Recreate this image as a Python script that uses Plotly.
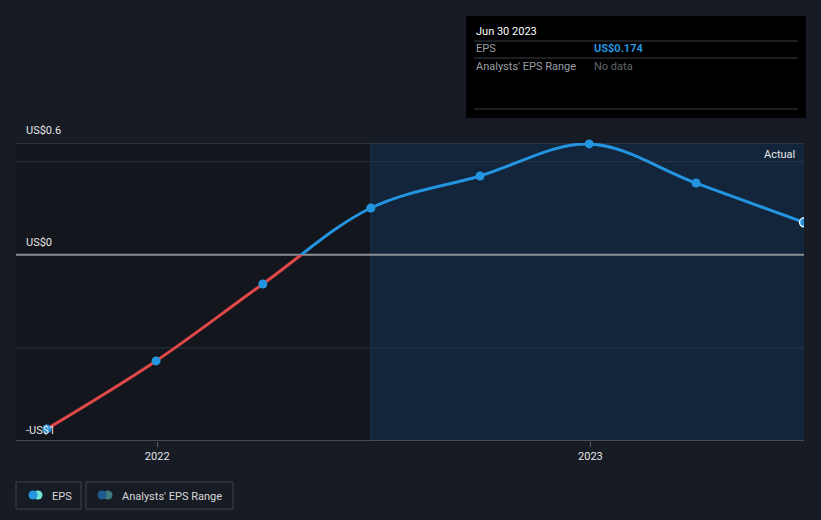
"""EPS CHART RECREATION"""
import plotly.graph_objects as go

# data
dates = [
    "2021-09-30", "2021-12-31", "2022-03-31", "2022-06-30",
    "2022-09-30", "2022-12-31", "2023-03-31", "2023-06-30",
]
eps = [-0.935, -0.57, -0.157, 0.251, 0.423, 0.595, 0.385, 0.174]
ytick_text = ["US$0.6", "US$0", "-US$1"]
xtick_vals = ["2022-01-01", "2023-01-01"]
xtick_text = ["2022", "2023"]
forecast_start = "2022-06-30"

W, H = 821, 520
L, R, T, B = 16, 804, 143, 441
X_RANGE = ["2021-09-04", "2023-06-30"]
Y_RANGE = [-1, 0.6]

BLUE = "#2394df"
RED = "#e04848"
FONT = "Roboto"


def px(x):
    return (x - L) / (R - L)


def py(y):
    return (B - y) / (B - T)


zero_frac = (0 - Y_RANGE[0]) / (Y_RANGE[1] - Y_RANGE[0])

line_kw = dict(x=dates, y=eps, mode="lines", line_shape="spline",
               line_smoothing=1.0, hoverinfo="skip", showlegend=False)

neg = [(d, v) for d, v in zip(dates[:-1], eps[:-1]) if v < 0]
pos = [(d, v) for d, v in zip(dates[:-1], eps[:-1]) if v >= 0]


def markers(points, yaxis, clip=False, **marker_kw):
    return go.Scatter(
        x=[p[0] for p in points], y=[p[1] for p in points], mode="markers",
        cliponaxis=clip, showlegend=False, yaxis=yaxis,
        marker=dict(color=BLUE, opacity=1, size=9, **marker_kw),
        hovertemplate="%{x}<br>US$%{y:.3f}<extra></extra>",
    )


data = [
    # red part below zero, clipped by its own axis
    go.Scatter(**line_kw, line=dict(color=RED, width=3), yaxis="y2"),
    markers(neg, "y2"),
    # blue part above zero
    go.Scatter(**line_kw, line=dict(color=BLUE, width=3), yaxis="y3"),
    markers(pos, "y3"),
    # latest point, clipped at the plot edge
    markers([(dates[-1], eps[-1])], "y3", clip=True, line=dict(color="#e8f4ff", width=1.5)),
]


def hline(y, color, width):
    return dict(type="line", xref="x", yref="y", x0=X_RANGE[0], x1=X_RANGE[1], y0=y, y1=y,
                line=dict(color=color, width=width), layer="below")


shapes = [
    # plot backgrounds: past (dark) and actual (shaded)
    dict(type="rect", xref="x", yref="y", x0=X_RANGE[0], x1=forecast_start,
         y0=Y_RANGE[0], y1=Y_RANGE[1], fillcolor="#13161d", line_width=0, layer="below"),
    dict(type="rect", xref="x", yref="y", x0=forecast_start, x1=X_RANGE[1],
         y0=Y_RANGE[0], y1=Y_RANGE[1], fillcolor="#13253a", line_width=0, layer="below"),
    dict(type="line", xref="x", yref="y", x0=forecast_start, x1=forecast_start,
         y0=Y_RANGE[0], y1=Y_RANGE[1], line=dict(color="#1a3550", width=1), layer="below"),
    # grid
    hline(0.5, "#2b3340", 1),
    hline(-0.5, "#2b3340", 1),
    hline(0.6, "#454b55", 1),
    hline(0, "#8c8f94", 2),
    hline(-1, "#575c64", 1.5),
    # tooltip box
    dict(type="rect", xref="paper", yref="paper", x0=px(466), x1=px(806),
         y0=py(118), y1=py(16), fillcolor="#000000", line_width=0),
]
for yy in (41, 58, 109):
    shapes.append(dict(type="line", xref="paper", yref="paper", x0=px(474), x1=px(798),
                       y0=py(yy), y1=py(yy), line=dict(color="#3c3f44", width=1)))

# legend boxes
for x0, x1 in ((16, 81), (86, 233)):
    shapes.append(dict(type="rect", xref="paper", yref="paper", x0=px(x0), x1=px(x1),
                       y0=py(509), y1=py(482), line=dict(color="#3d424a", width=1),
                       fillcolor="rgba(0,0,0,0)"))
for cx, col in ((38, "#6fe3d6"), (33, BLUE), (108, "#3d7c7c"), (102, "#1e5b8f")):
    shapes.append(dict(type="circle", xref="paper", yref="paper", x0=px(cx - 4.5), x1=px(cx + 4.5),
                       y0=py(499.5), y1=py(490.5), fillcolor=col, line_width=0))


def ann(x, y, text, color="#e6e6e6", size=11, xanchor="left", **kw):
    return dict(xref="paper", yref="paper", x=px(x), y=py(y), text=text, showarrow=False,
                xanchor=xanchor, yanchor="middle", font=dict(family=FONT, size=size, color=color), **kw)


annotations = [ann(24, yp, t) for yp, t in zip((130, 242, 430), ytick_text)]
annotations += [
    ann(797, 154, "Actual", xanchor="right"),
    ann(474, 31, "Jun 30 2023", color="#ffffff"),
    ann(474, 49, "EPS", color="#9a9ea4"),
    ann(592, 49, "<b>US$0.174</b>", color=BLUE),
    ann(474, 66, "Analysts' EPS Range", color="#9a9ea4"),
    ann(592, 66, "No data", color="#61656b"),
    ann(50, 496, "EPS", color="#d8d8d8"),
    ann(120, 496, "Analysts' EPS Range", color="#d8d8d8"),
]

layout = go.Layout(
    width=W, height=H,
    paper_bgcolor="#161b24",
    plot_bgcolor="rgba(0,0,0,0)",
    margin=dict(l=L, r=W - R, t=T, b=H - B),
    font=dict(family=FONT, size=11, color="#e6e6e6"),
    showlegend=False,
    xaxis=dict(
        range=X_RANGE, type="date", showgrid=False, zeroline=False, showline=False,
        tickvals=xtick_vals, ticktext=xtick_text, ticks="outside", ticklen=5,
        tickcolor="#575c64", tickfont=dict(color="#e6e6e6", size=11), fixedrange=True,
    ),
    yaxis=dict(range=Y_RANGE, showgrid=False, zeroline=False, showticklabels=False, fixedrange=True),
    yaxis2=dict(range=[Y_RANGE[0], 0], domain=[0, zero_frac], visible=False, fixedrange=True),
    yaxis3=dict(range=[0, Y_RANGE[1]], domain=[zero_frac, 1], visible=False, fixedrange=True),
    shapes=shapes,
    annotations=annotations,
    hovermode="closest",
)

fig = go.Figure(data, layout)
fig.write_html("out.html", config={"displayModeBar": False},
               post_script="document.body.style.margin='0';")
